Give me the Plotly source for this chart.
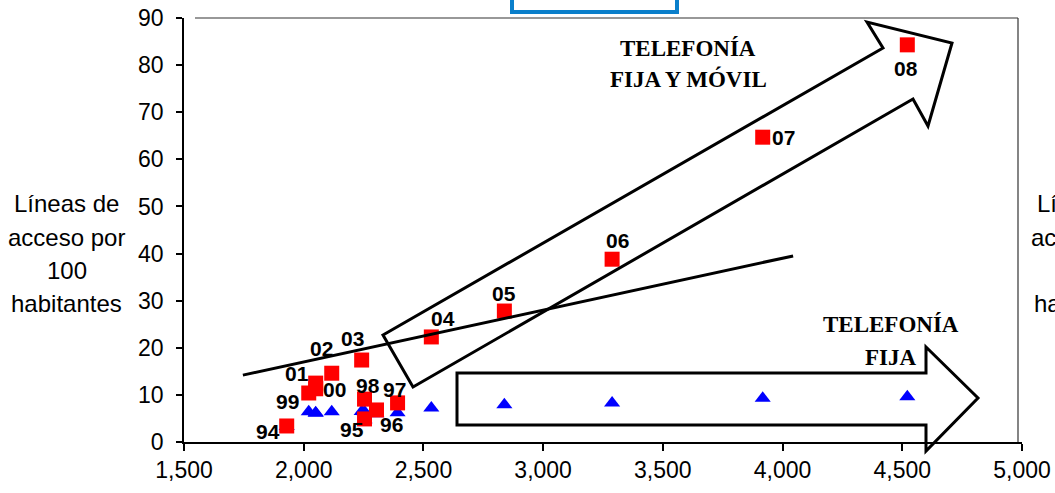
import plotly.graph_objects as go

# ---------------- data ----------------
years = ["94", "95", "96", "97", "98", "99", "00", "01", "02", "03", "04", "05", "06", "07", "08"]
gdp_per_capita = [1929, 2254, 2304, 2392, 2254, 2021, 2050, 2050, 2117, 2242, 2533, 2838, 3288, 3917, 4521]
fixed_and_mobile = [3.4, 4.9, 6.8, 8.3, 9.1, 10.4, 11.3, 12.5, 14.6, 17.4, 22.3, 27.8, 38.8, 64.7, 84.3]
fixed_only = [3.3, 4.7, 6.0, 6.2, 6.4, 6.4, 6.2, 6.1, 6.4, 6.5, 7.2, 7.9, 8.3, 9.3, 9.6]
trend_x = [1746, 4044]
trend_y = [14.2, 39.5]
x_ticks = [1500, 2000, 2500, 3000, 3500, 4000, 4500, 5000]
y_ticks = [0, 10, 20, 30, 40, 50, 60, 70, 80, 90]
y_title_lines = ["Líneas de", "acceso por", "100", "habitantes"]

# label offsets (pixels) for each year label
label_dx = [-19, -13, 15, -3, 3, -21, 19, -19, -10, -9, 12, 0, 5, 21, -1]
label_dy = [-6, -11, -15, 13, 14, -8, -1, 10, 25, 22, 18, 18, 19, 0, -24]

# ---------------- geometry helpers ----------------
W_FIG, H_FIG = 1055, 493
L, R, T, B = 184, 1022, 18, 442
PW, PH = R - L, B - T


def px(x):
    return (x - L) / PW


def py(y):
    return (B - y) / PH


def path_from(points):
    s = "M " + " L ".join(f"{px(a):.5f},{py(b):.5f}" for a, b in points) + " Z"
    return s


arrow1_pts = [(383, 335), (883, 48), (867, 22), (952, 43), (928, 126), (913, 99), (413, 387)]
arrow2_pts = [(457, 373), (926, 373), (926, 347), (978, 398), (926, 451), (926, 425), (457, 425)]

fig = go.Figure()

fig.add_trace(go.Scatter(
    x=gdp_per_capita, y=fixed_only, mode="markers",
    marker=dict(symbol="triangle-up", size=14, color="#0000FF", line=dict(width=0)),
    showlegend=False, hoverinfo="skip"))

fig.add_trace(go.Scatter(
    x=gdp_per_capita, y=fixed_and_mobile, mode="markers",
    marker=dict(symbol="square", size=15, color="#FF0000", line=dict(width=0)),
    showlegend=False, hoverinfo="skip"))

fig.add_trace(go.Scatter(
    x=trend_x, y=trend_y, mode="lines",
    line=dict(color="black", width=3),
    showlegend=False, hoverinfo="skip"))

annotations = []
for i, lab in enumerate(years):
    annotations.append(dict(
        x=gdp_per_capita[i], y=fixed_and_mobile[i], xref="x", yref="y",
        text=lab, showarrow=False, xshift=label_dx[i], yshift=label_dy[i],
        font=dict(family="Liberation Sans, Arial", size=21, color="black", weight="bold"),
        xanchor="center", yanchor="middle"))

serif = dict(family="Liberation Serif, Times New Roman", size=23, color="black", weight="bold")
annotations += [
    dict(x=px(688), y=py(48), xref="paper", yref="paper", text="TELEFONÍA", showarrow=False,
         font=serif, xanchor="center", yanchor="middle"),
    dict(x=px(688), y=py(79), xref="paper", yref="paper", text="FIJA Y MÓVIL", showarrow=False,
         font=serif, xanchor="center", yanchor="middle"),
    dict(x=px(891), y=py(324), xref="paper", yref="paper", text="TELEFONÍA", showarrow=False,
         font=serif, xanchor="center", yanchor="middle"),
    dict(x=px(919), y=py(357), xref="paper", yref="paper", text="FIJA", showarrow=False,
         font=serif, xanchor="right", yanchor="middle"),
]

title_font = dict(family="Liberation Sans, Arial", size=24, color="black")
for k, (line, yy) in enumerate(zip(y_title_lines, [204, 237, 270, 303])):
    annotations.append(dict(x=px(67), y=py(yy), xref="paper", yref="paper", text=line,
                            showarrow=False, font=title_font, xanchor="center", yanchor="middle"))
    annotations.append(dict(x=px(1089), y=py(yy), xref="paper", yref="paper", text=line,
                            showarrow=False, font=title_font, xanchor="center", yanchor="middle"))

shapes = [
    dict(type="path", path=path_from(arrow1_pts), xref="paper", yref="paper",
         line=dict(color="black", width=3), fillcolor="rgba(0,0,0,0)", layer="above"),
    dict(type="path", path=path_from(arrow2_pts), xref="paper", yref="paper",
         line=dict(color="black", width=3), fillcolor="rgba(0,0,0,0)", layer="above"),
    # top and right frame of plot area
    dict(type="line", xref="paper", yref="paper", x0=px(195), x1=px(1018), y0=py(18), y1=py(18),
         line=dict(color="#333333", width=1.2)),
    dict(type="line", xref="paper", yref="paper", x0=px(1018), x1=px(1018), y0=py(18), y1=py(442),
         line=dict(color="#333333", width=1.2)),
    # blue box at top
    dict(type="rect", xref="paper", yref="paper", x0=px(512), x1=px(677), y0=py(-20), y1=py(12),
         line=dict(color="#0A7FCB", width=4), fillcolor="white"),
]

fig.update_layout(
    width=W_FIG, height=H_FIG,
    margin=dict(l=L, r=W_FIG - R, t=T, b=H_FIG - B, autoexpand=False),
    paper_bgcolor="white", plot_bgcolor="white",
    annotations=annotations, shapes=shapes,
    font=dict(family="Liberation Sans, Arial", color="black"),
)

fig.update_xaxes(
    range=[1500, 5000], tickvals=x_ticks, tickformat=",d", automargin=False,
    showgrid=False, zeroline=False, showline=True, linecolor="black", linewidth=1.5,
    ticks="outside", ticklen=7, tickwidth=1.5, tickcolor="black",
    tickfont=dict(family="Liberation Sans, Arial", size=23, color="black"))
fig.update_yaxes(
    range=[0, 90], tickvals=y_ticks, automargin=False,
    showgrid=False, zeroline=False, showline=True, linecolor="black", linewidth=1.5,
    ticks="outside", ticklen=6, tickwidth=1.5, tickcolor="black",
    ticklabelstandoff=8,
    tickfont=dict(family="Liberation Sans, Arial", size=23, color="black"))

fig.write_html(
    "out.html",
    config={"displayModeBar": False},
    post_script="document.body.style.margin='0px';document.body.style.padding='0px';"
                "document.body.style.overflow='hidden';",
)
